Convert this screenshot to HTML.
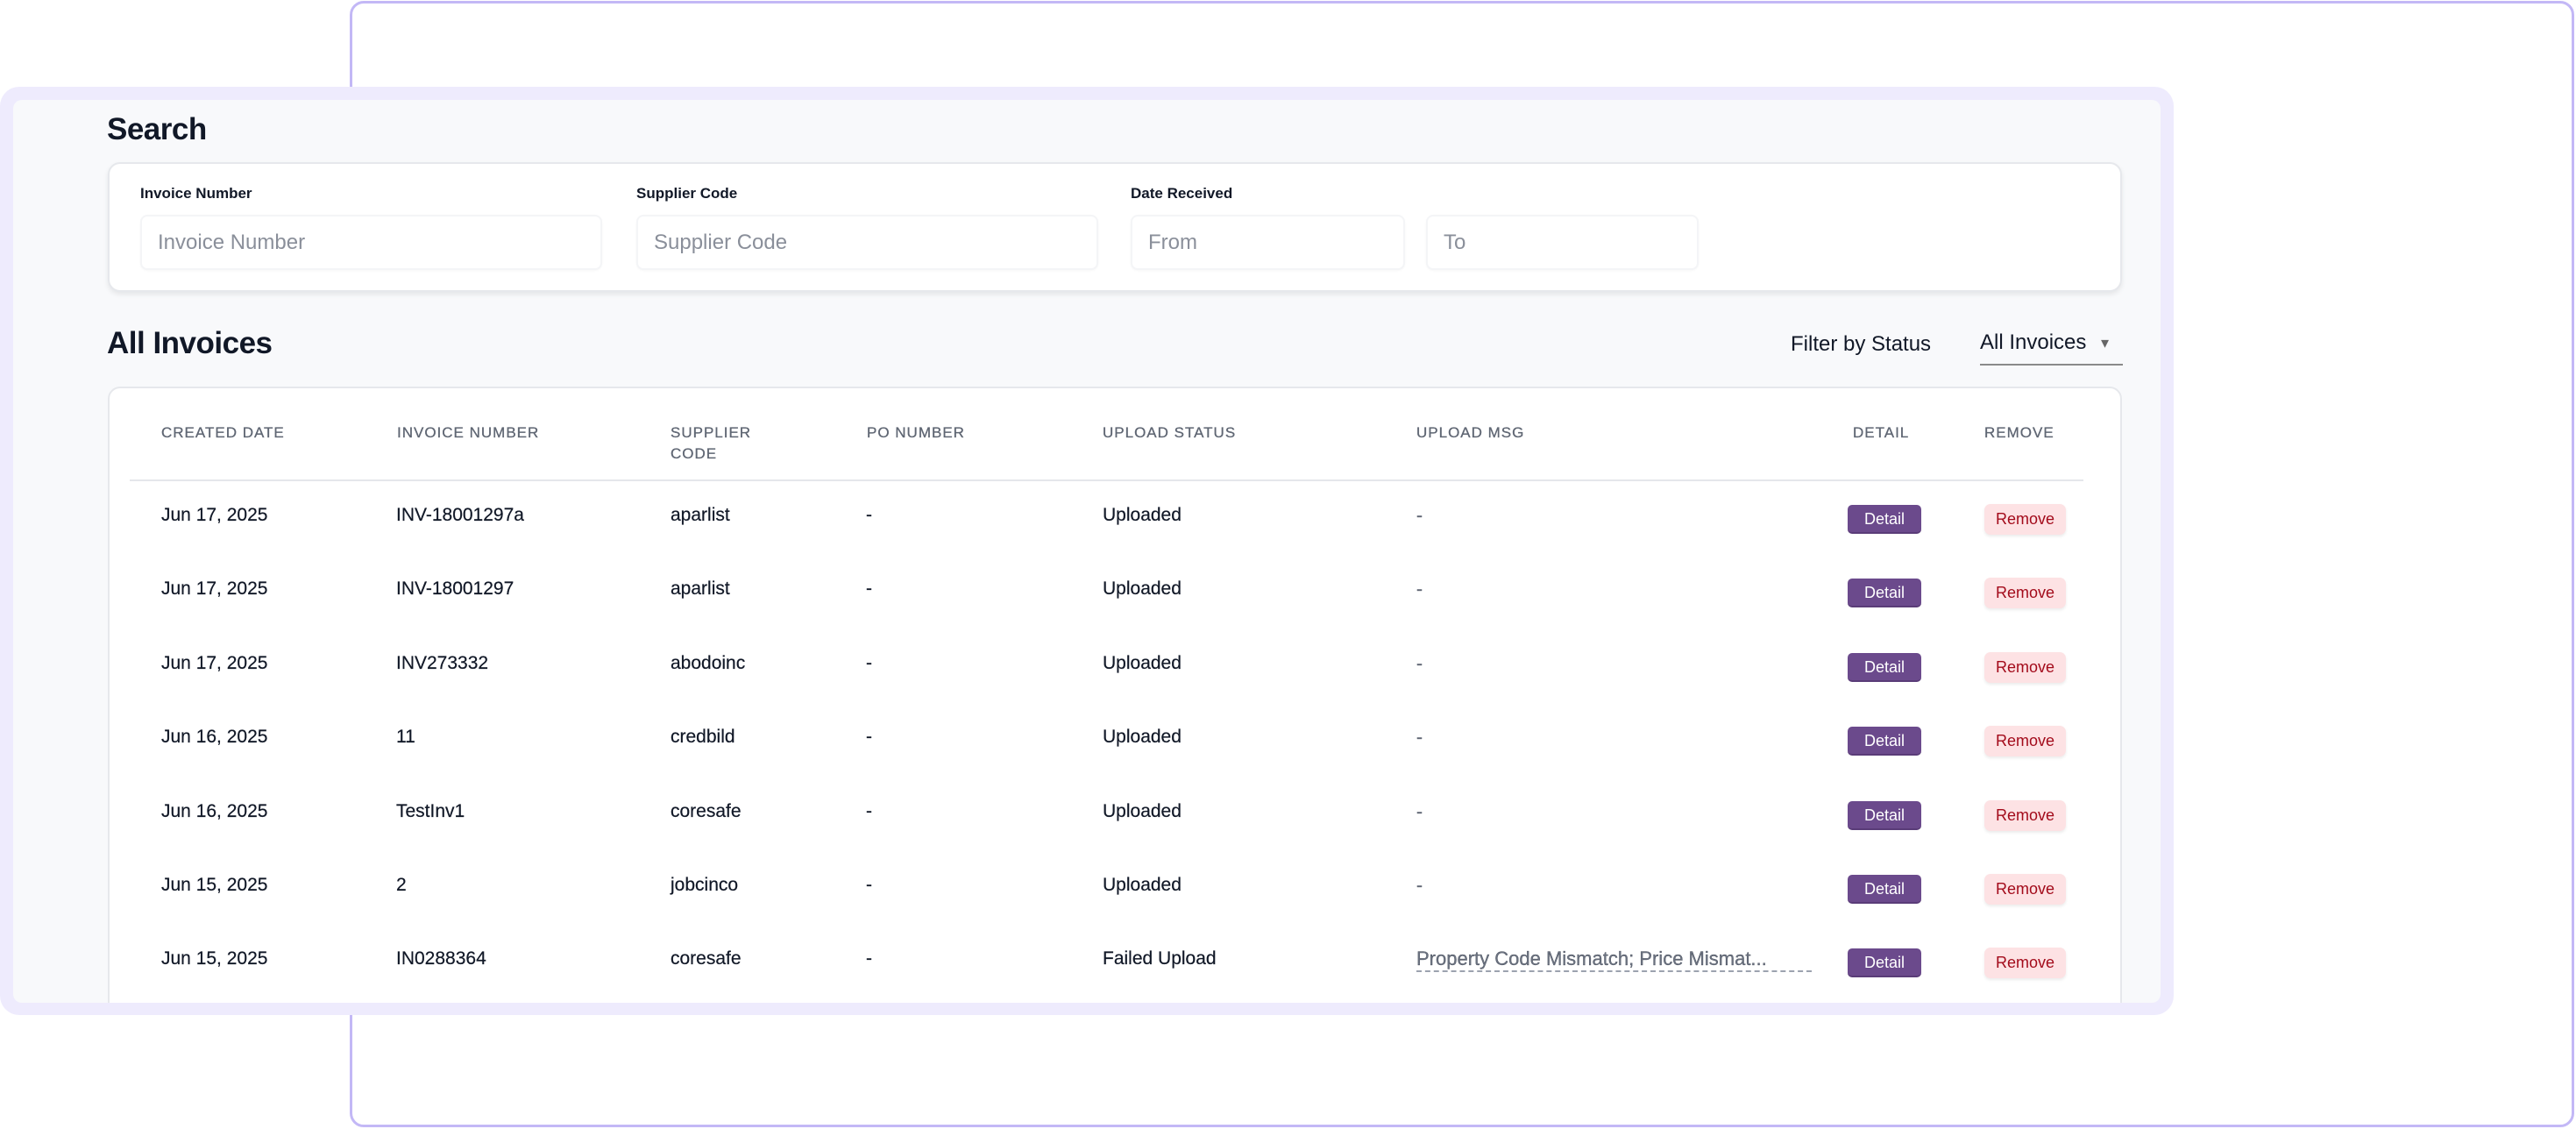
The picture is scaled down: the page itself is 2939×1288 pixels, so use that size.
<!DOCTYPE html>
<html><head><meta charset="utf-8"><style>
*{box-sizing:border-box;margin:0;padding:0}
body{width:2939px;height:1288px;background:#fff;position:relative;overflow:hidden;font-family:"Liberation Sans",sans-serif;color:#111827}
.abs{position:absolute}
#back{left:399px;top:1px;width:2538px;height:1285px;border:3px solid #c3b8f6;border-radius:16px}
#panel{left:0;top:99px;width:2480px;height:1059px;background:#eeebfd;border-radius:22px}
#inner{left:15px;top:15px;width:2450px;height:1030px;background:#f8f9fb;border-radius:10px;overflow:hidden}
h2{position:absolute;font-size:35px;font-weight:bold;letter-spacing:-0.5px}
.card{position:absolute;background:#fff;border:2px solid #e6e8ec;border-radius:14px;box-shadow:0 3px 6px rgba(0,0,0,0.08)}
.lbl{position:absolute;font-size:17px;font-weight:bold;color:#111827}
.inp{position:absolute;height:63px;border:2px solid #f4f5f7;border-radius:8px;background:#fff;font-size:24px;color:#8a8f9a;padding-left:18px;line-height:59px;box-shadow:0 1px 2px rgba(0,0,0,0.03)}
.th{position:absolute;font-size:17px;color:#5f6673;letter-spacing:1px;line-height:24px;-webkit-text-stroke:0.3px #5f6673}
.td{position:absolute;font-size:21px;color:#111827;transform:translateY(-50%);-webkit-text-stroke:0.2px #111827}
.btnd{position:absolute;width:84px;height:33px;background:#6b4a8c;border-radius:5px;color:#fff;font-size:18px;text-align:center;line-height:33px;border-bottom:2px solid #5a3c78}
.btnr{position:absolute;width:93px;height:35px;background:#fde2e4;border-radius:7px;color:#a30b1b;font-size:18px;text-align:center;line-height:35px;box-shadow:0 2px 3px rgba(0,0,0,0.08)}
</style></head><body>
<div id="back" class="abs"></div>
<div id="panel" class="abs">
<div id="inner" class="abs">
</div></div>
<div id="page" class="abs" style="left:0;top:0;width:2939px;height:1144px;overflow:hidden">
<h2 style="left:122px;top:128px">Search</h2>
<div class="card" style="left:123px;top:185px;width:2298px;height:148px"></div>
<div class="lbl" style="left:160px;top:211px">Invoice Number</div>
<div class="lbl" style="left:726px;top:211px">Supplier Code</div>
<div class="lbl" style="left:1290px;top:211px">Date Received</div>
<div class="inp" style="left:160px;top:245px;width:527px">Invoice Number</div>
<div class="inp" style="left:726px;top:245px;width:527px">Supplier Code</div>
<div class="inp" style="left:1290px;top:245px;width:313px">From</div>
<div class="inp" style="left:1627px;top:245px;width:311px">To</div>
<h2 style="left:122px;top:372px">All Invoices</h2>
<div class="abs" style="left:2043px;top:379px;font-size:24px">Filter by Status</div>
<div class="abs" style="left:2259px;top:377px;width:163px;height:40px;border-bottom:2px solid #8a8a8a;font-size:24px">All Invoices<span style="position:absolute;left:138px;top:4px;font-size:18px;color:#666">▾</span></div>
<div class="card" style="left:123px;top:441px;width:2298px;height:760px;box-shadow:none"></div>
<div class="th" style="left:184px;top:482px">CREATED DATE</div>
<div class="th" style="left:453px;top:482px">INVOICE NUMBER</div>
<div class="th" style="left:765px;top:482px">SUPPLIER<br>CODE</div>
<div class="th" style="left:989px;top:482px">PO NUMBER</div>
<div class="th" style="left:1258px;top:482px">UPLOAD STATUS</div>
<div class="th" style="left:1616px;top:482px">UPLOAD MSG</div>
<div class="th" style="left:2114px;top:482px">DETAIL</div>
<div class="th" style="left:2264px;top:482px">REMOVE</div>
<div class="abs" style="left:148px;top:547px;width:2229px;height:2px;background:#e5e7eb"></div>
<div id="rows"></div>
</div>
<script>
const dates=["Jun 17, 2025","Jun 17, 2025","Jun 17, 2025","Jun 16, 2025","Jun 16, 2025","Jun 15, 2025","Jun 15, 2025"];
const invoices=["INV-18001297a","INV-18001297","INV273332","11","TestInv1","2","IN0288364"];
const suppliers=["aparlist","aparlist","abodoinc","credbild","coresafe","jobcinco","coresafe"];
const statuses=["Uploaded","Uploaded","Uploaded","Uploaded","Uploaded","Uploaded","Failed Upload"];
const msgs=["-","-","-","-","-","-","Property Code Mismatch; Price Mismat..."];
const rows=document.getElementById('rows');
function add(cls,x,y,txt,name,inter){const d=document.createElement('div');d.className=cls;d.style.left=x+'px';d.style.top=y+'px';d.textContent=txt;


rows.appendChild(d);return d;}
dates.forEach((dt,i)=>{const y=588+i*84.4;
add('td',184,y,dt,'row-created-date','false');
add('td',452,y,invoices[i],'row-invoice-number','false');
add('td',765,y,suppliers[i],'row-supplier-code','false');
add('td',988,y,'-','row-po-number','false');
add('td',1258,y,statuses[i],'row-upload-status','false');
const m=add('td',1616,y+1,msgs[i],'row-upload-msg','false');m.style.color='#6b7280';
if(msgs[i].length>1){m.style.borderBottom='2px dashed #9ca3af';m.style.width='451px';m.style.fontSize='22px';}
add('btnd',2108,y-12,'Detail','detail-button','true');
add('btnr',2264,y-13,'Remove','remove-button','true');
});
</script>
</body></html>
